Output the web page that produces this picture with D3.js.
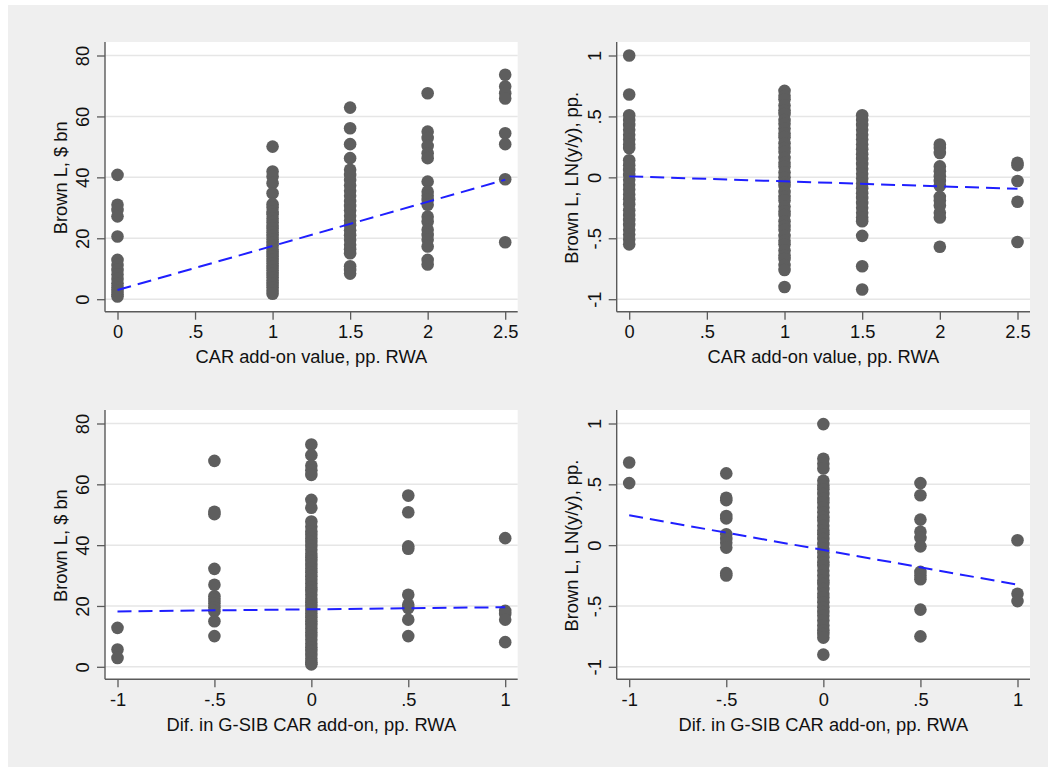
<!DOCTYPE html>
<html>
<head>
<meta charset="utf-8">
<script src="https://cdn.jsdelivr.net/npm/d3@7"></script>
<style>
  html, body { margin: 0; padding: 0; background: #fff; }
  svg { display: block; font-family: "Liberation Sans", Arial, sans-serif; }
</style>
</head>
<body>
<div id="chart"></div>
<script>
// ---- data ----
const carTicks = [0, 0.5, 1, 1.5, 2, 2.5];
const carTickLabels = ["0", ".5", "1", "1.5", "2", "2.5"];
const difTicks = [-1, -0.5, 0, 0.5, 1];
const difTickLabels = ["-1", "-.5", "0", ".5", "1"];
const levelTicks = [0, 20, 40, 60, 80];
const levelTickLabels = ["0", "20", "40", "60", "80"];
const growthTicks = [-1, -0.5, 0, 0.5, 1];
const growthTickLabels = ["-1", "-.5", "0", ".5", "1"];

// [x value, list of y values] per column
const levelByCar = [
  [0, [40.8, 31.0, 29.3, 27.2, 20.6, 12.9, 11.2, 9.6, 8.1, 6.6, 5.2, 3.9, 2.7, 1.6, 0.9]],
  [1, [50.1, 41.9, 40.3, 38.1, 34.8, 31.2, 30.1, 28.7, 27.9, 26.5, 25.3, 24.1, 23.2, 22.0, 20.8, 19.7,
       18.5, 17.6, 16.3, 15.2, 14.1, 12.9, 11.8, 10.6, 9.5, 8.3, 7.2, 6.1, 5.0, 3.9, 2.8, 1.8]],
  [1.5, [62.9, 56.1, 50.9, 46.3, 42.5, 40.8, 39.1, 37.3, 35.6, 34.0, 32.2, 30.6, 29.1, 27.4, 25.8, 24.3,
         22.6, 21.0, 19.5, 17.9, 16.4, 15.1, 10.8, 9.6, 8.4]],
  [2, [67.6, 55.0, 52.9, 50.3, 47.9, 46.3, 38.6, 35.3, 34.0, 32.6, 31.0, 27.1, 25.5, 22.8, 21.1, 19.5, 17.3, 12.9, 11.4]],
  [2.5, [73.7, 69.8, 67.6, 65.9, 54.5, 50.9, 39.4, 18.7]]
];
const levelByCarFit = [[0, 3.0], [2.5, 39.2]];

const growthByCar = [
  [0, [1.0, 0.68, 0.51, 0.47, 0.43, 0.39, 0.35, 0.31, 0.27, 0.24, 0.14, 0.10, 0.06, 0.02, -0.02, -0.06,
       -0.10, -0.14, -0.18, -0.22, -0.27, -0.31, -0.35, -0.39, -0.43, -0.47, -0.51, -0.55]],
  [1, [0.71, 0.67, 0.64, 0.59, 0.55, 0.52, 0.47, 0.44, 0.40, 0.36, 0.33, 0.28, 0.24, 0.21, 0.16, 0.12,
       0.09, 0.04, 0.0, -0.04, -0.07, -0.12, -0.16, -0.19, -0.24, -0.28, -0.31, -0.36, -0.40, -0.43,
       -0.48, -0.52, -0.55, -0.60, -0.64, -0.67, -0.72, -0.76, -0.90]],
  [1.5, [0.51, 0.47, 0.43, 0.39, 0.35, 0.31, 0.27, 0.23, 0.19, 0.15, 0.11, 0.07, 0.03, -0.01, -0.05, -0.09,
         -0.13, -0.17, -0.21, -0.25, -0.29, -0.33, -0.36, -0.48, -0.73, -0.92]],
  [2, [0.27, 0.24, 0.20, 0.09, 0.05, 0.01, -0.03, -0.07, -0.16, -0.19, -0.23, -0.29, -0.33, -0.57]],
  [2.5, [0.12, 0.10, -0.03, -0.20, -0.53]]
];
const growthByCarFit = [[0, 0.008], [2.5, -0.094]];

const levelByDif = [
  [-1, [12.8, 5.7, 2.9]],
  [-0.5, [67.7, 51.0, 50.2, 32.2, 27.0, 23.2, 22.0, 20.9, 19.6, 18.3, 15.0, 10.1]],
  [0, [73.1, 69.6, 66.1, 64.6, 63.1, 54.9, 52.3, 47.8, 46.1, 44.5, 43.4, 42.2, 41.0, 39.7, 38.5, 37.2,
       36.0, 34.8, 33.5, 32.3, 31.1, 29.8, 28.6, 27.4, 26.1, 24.9, 23.7, 22.4, 21.2, 20.0, 18.7, 17.5,
       16.3, 15.0, 13.8, 12.6, 11.3, 10.1, 8.9, 7.6, 6.4, 5.2, 3.9, 2.7, 1.5, 0.8]],
  [0.5, [56.3, 50.8, 39.6, 38.8, 23.7, 20.4, 19.3, 15.5, 10.1]],
  [1, [42.3, 18.4, 17.4, 15.5, 8.1]]
];
const levelByDifFit = [[-1, 18.2], [1, 19.6]];

const growthByDif = [
  [-1, [0.68, 0.51]],
  [-0.5, [0.59, 0.39, 0.37, 0.24, 0.22, 0.09, 0.05, 0.02, -0.02, -0.23, -0.25]],
  [0, [0.995, 0.71, 0.67, 0.63, 0.53, 0.49, 0.46, 0.42, 0.38, 0.35, 0.31, 0.27, 0.23, 0.20, 0.16, 0.12,
       0.09, 0.05, 0.01, -0.03, -0.06, -0.10, -0.14, -0.17, -0.21, -0.25, -0.29, -0.32, -0.36, -0.40,
       -0.43, -0.47, -0.51, -0.55, -0.58, -0.62, -0.66, -0.70, -0.73, -0.76, -0.90]],
  [0.5, [0.51, 0.41, 0.21, 0.11, 0.06, -0.01, -0.22, -0.25, -0.28, -0.53, -0.75]],
  [1, [0.04, -0.40, -0.46]]
];
const growthByDifFit = [[-1, 0.245], [1, -0.325]];

const carTitle = "CAR add-on value, pp. RWA";
const difTitle = "Dif. in G-SIB CAR add-on, pp. RWA";
const levelTitle = "Brown L, $ bn";
const growthTitle = "Brown L, LN(y/y), pp.";

// ---- layout ----
const width = 1053, height = 767;
const inset = { x: 12.5, top: 13.5, bottom: 12.5 };
const fontSize = 18.3;
const markerColor = "#5e5e5e";
const axisColor = "#5a5a5a";

const panels = [
  { points: levelByCar, fit: levelByCarFit, xTicks: carTicks, xLabels: carTickLabels, xDomain: [0, 2.5],
    yTicks: levelTicks, yLabels: levelTickLabels, yDomain: [0, 80], xTitle: carTitle, yTitle: levelTitle,
    left: 105, right: 517.7, top: 42, bottom: 311.7 },
  { points: growthByCar, fit: growthByCarFit, xTicks: carTicks, xLabels: carTickLabels, xDomain: [0, 2.5],
    yTicks: growthTicks, yLabels: growthTickLabels, yDomain: [-1, 1], xTitle: carTitle, yTitle: growthTitle,
    left: 616.7, right: 1030, top: 42, bottom: 311.7 },
  { points: levelByDif, fit: levelByDifFit, xTicks: difTicks, xLabels: difTickLabels, xDomain: [-1, 1],
    yTicks: levelTicks, yLabels: levelTickLabels, yDomain: [0, 80], xTitle: difTitle, yTitle: levelTitle,
    left: 105, right: 517.7, top: 410, bottom: 679.3 },
  { points: growthByDif, fit: growthByDifFit, xTicks: difTicks, xLabels: difTickLabels, xDomain: [-1, 1],
    yTicks: growthTicks, yLabels: growthTickLabels, yDomain: [-1, 1], xTitle: difTitle, yTitle: growthTitle,
    left: 616.7, right: 1030, top: 410, bottom: 679.3 }
];

const svg = d3.select("#chart").append("svg")
  .attr("width", width)
  .attr("height", height)
  .attr("viewBox", [0, 0, width, height]);

// graph region background
svg.append("rect")
  .attr("x", 8).attr("y", 5)
  .attr("width", 1040).attr("height", height - 5)
  .attr("fill", "#efefef");

panels.forEach(p => drawPanel(p));

function drawPanel(p) {
  const x = d3.scaleLinear().domain(p.xDomain).range([p.left + inset.x, p.right - inset.x]);
  const y = d3.scaleLinear().domain(p.yDomain).range([p.bottom - inset.bottom, p.top + inset.top]);
  const g = svg.append("g");

  g.append("rect")
    .attr("x", p.left).attr("y", p.top)
    .attr("width", p.right - p.left).attr("height", p.bottom - p.top)
    .attr("fill", "#fff");

  // horizontal grid
  g.append("g").selectAll("line")
    .data(p.yTicks)
    .join("line")
    .attr("x1", p.left).attr("x2", p.right)
    .attr("y1", d => y(d)).attr("y2", d => y(d))
    .attr("stroke", "#e6e6e6")
    .attr("stroke-width", 1.5);

  // scatter
  const pts = p.points.flatMap(([xv, ys]) => ys.map(v => [xv, v]));
  g.append("g").selectAll("circle")
    .data(pts)
    .join("circle")
    .attr("cx", d => x(d[0]))
    .attr("cy", d => y(d[1]))
    .attr("r", 6.3)
    .attr("fill", markerColor);

  // linear fit
  g.append("path")
    .datum(p.fit)
    .attr("d", d3.line().x(d => x(d[0])).y(d => y(d[1])))
    .attr("fill", "none")
    .attr("stroke", "#1f1fff")
    .attr("stroke-width", 2)
    .attr("stroke-dasharray", "14 7");

  // axes
  const yAxis = g.append("g")
    .attr("transform", `translate(${p.left},0)`)
    .call(d3.axisLeft(y).tickValues(p.yTicks).tickFormat((d, i) => p.yLabels[i]).tickSize(8).tickSizeOuter(0));
  yAxis.select(".domain").remove();
  yAxis.selectAll(".tick line").attr("stroke", axisColor).attr("stroke-width", 1.3);
  yAxis.selectAll(".tick text")
    .attr("transform", "rotate(-90)")
    .attr("x", 0).attr("y", -15.8).attr("dy", 0)
    .attr("text-anchor", "middle")
    .attr("fill", "#111")
    .style("font-size", fontSize + "px")
    .style("font-family", "Liberation Sans, Arial, sans-serif");

  const xAxis = g.append("g")
    .attr("transform", `translate(0,${p.bottom})`)
    .call(d3.axisBottom(x).tickValues(p.xTicks).tickFormat((d, i) => p.xLabels[i]).tickSize(8).tickSizeOuter(0));
  xAxis.select(".domain").remove();
  xAxis.selectAll(".tick line").attr("stroke", axisColor).attr("stroke-width", 1.3);
  xAxis.selectAll(".tick text")
    .attr("y", 26.8).attr("dy", 0)
    .attr("fill", "#111")
    .style("font-size", fontSize + "px")
    .style("font-family", "Liberation Sans, Arial, sans-serif");

  g.append("line")
    .attr("x1", p.left).attr("x2", p.left)
    .attr("y1", p.top).attr("y2", p.bottom)
    .attr("stroke", axisColor).attr("stroke-width", 1.4);
  g.append("line")
    .attr("x1", p.left).attr("x2", p.right)
    .attr("y1", p.bottom).attr("y2", p.bottom)
    .attr("stroke", axisColor).attr("stroke-width", 1.4);

  // titles
  g.append("text")
    .attr("x", (p.left + p.right) / 2)
    .attr("y", p.bottom + 51.3)
    .attr("text-anchor", "middle")
    .attr("fill", "#111")
    .style("font-size", fontSize + "px")
    .text(p.xTitle);

  g.append("text")
    .attr("transform", `translate(${p.left - 38.3},${(p.top + p.bottom) / 2 + 1}) rotate(-90)`)
    .attr("text-anchor", "middle")
    .attr("fill", "#111")
    .style("font-size", fontSize + "px")
    .text(p.yTitle);
}
</script>
</body>
</html>
